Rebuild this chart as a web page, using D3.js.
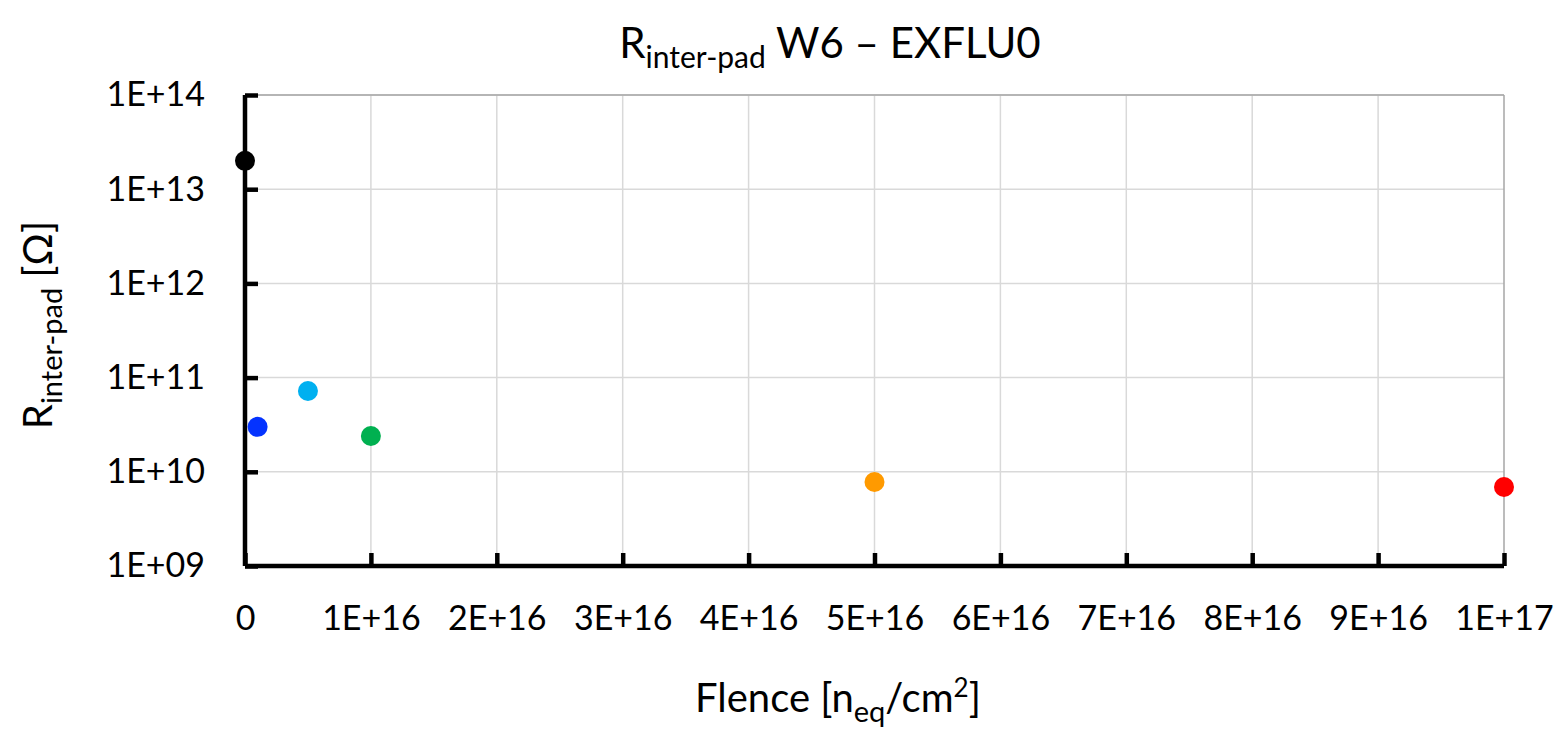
<!DOCTYPE html>
<html><head><meta charset="utf-8">
<script src="https://cdn.jsdelivr.net/npm/d3@7"></script>
<style>body{margin:0;background:#fff;}svg{display:block;font-family:Lato,"Open Sans",sans-serif;}</style>
</head><body>
<svg id="c" width="1563" height="735"></svg>
<script>
const fluence = [0, 1e15, 5e15, 1e16, 5e16, 1e17];
const resistance = [2e13, 3e10, 7.2e10, 2.4e10, 7.8e9, 6.9e9];
const pointColors = ["#000000", "#0433ff", "#00b0f0", "#00b050", "#ff9a00", "#ff0000"];
const xTicks = [0, 1e16, 2e16, 3e16, 4e16, 5e16, 6e16, 7e16, 8e16, 9e16, 1e17];
const xTickLabels = ["0", "1E+16", "2E+16", "3E+16", "4E+16", "5E+16", "6E+16", "7E+16", "8E+16", "9E+16", "1E+17"];
const yTicks = [1e9, 1e10, 1e11, 1e12, 1e13, 1e14];
const yTickLabels = ["1E+09", "1E+10", "1E+11", "1E+12", "1E+13", "1E+14"];

const svg = d3.select("#c");
const L = 245, R = 1504, T = 95, B = 566;
const x = d3.scaleLinear().domain([0, 1e17]).range([L, R]);
const y = d3.scaleLog().domain([1e9, 1e14]).range([B, T]);

// gridlines
svg.append("g").selectAll("line").data(yTicks.slice(1)).join("line")
  .attr("x1", L).attr("x2", R).attr("y1", d => y(d)).attr("y2", d => y(d))
  .attr("stroke", "#d9d9d9").attr("stroke-width", 1.5);
svg.append("g").selectAll("line").data(xTicks.slice(1)).join("line")
  .attr("x1", d => x(d)).attr("x2", d => x(d)).attr("y1", T).attr("y2", B)
  .attr("stroke", d => d === 1e17 ? "#a6a6a6" : "#d9d9d9").attr("stroke-width", 1.5);
svg.append("line").attr("x1", L).attr("x2", R).attr("y1", T).attr("y2", T)
  .attr("stroke", "#a6a6a6").attr("stroke-width", 1.5);

// axes
const yAxis = d3.axisLeft(y).tickValues(yTicks).tickFormat((d, i) => yTickLabels[i]).tickSize(-13).tickPadding(40);
const gy = svg.append("g").attr("transform", `translate(${L},0)`).call(yAxis);
const xAxis = d3.axisBottom(x).tickValues(xTicks).tickFormat((d, i) => xTickLabels[i]).tickSize(-13).tickPadding(40);
const gx = svg.append("g").attr("transform", `translate(0,${B})`).call(xAxis);
[gx, gy].forEach(g => {
  g.select(".domain").attr("stroke", "#000").attr("stroke-width", 4.5);
  g.selectAll(".tick line").attr("stroke", "#000").attr("stroke-width", 4.5);
  g.selectAll(".tick text").attr("fill", "#000").attr("font-size", 34).attr("font-family", "Lato, 'Open Sans', sans-serif");
});
gy.select(".domain").attr("d", `M0,${B}V${T}`);
gx.select(".domain").attr("d", `M${L},0H${R}`);

// points
svg.append("g").selectAll("circle").data(fluence).join("circle")
  .attr("cx", d => x(d)).attr("cy", (d, i) => y(resistance[i])).attr("r", 10)
  .attr("fill", (d, i) => pointColors[i]);

// title
const title = svg.append("text").attr("x", 830).attr("y", 58).attr("text-anchor", "middle")
  .attr("font-size", 42).attr("fill", "#000");
title.append("tspan").text("R");
title.append("tspan").attr("font-size", 30).attr("dy", 10).text("inter-pad");
title.append("tspan").attr("dy", -10).text(" W6 – EXFLU0");

// x axis title
const xt = svg.append("text").attr("x", 838).attr("y", 712).attr("text-anchor", "middle")
  .attr("font-size", 40).attr("fill", "#000");
xt.append("tspan").text("Flence [n");
xt.append("tspan").attr("font-size", 29).attr("dy", 10).text("eq");
xt.append("tspan").attr("dy", -10).text("/cm");
xt.append("tspan").attr("font-size", 26).attr("dy", -15).text("2");
xt.append("tspan").attr("dy", 15).text("]");

// y axis title
const yt = svg.append("text").attr("transform", "translate(52,325) rotate(-90)").attr("text-anchor", "middle")
  .attr("font-size", 40).attr("fill", "#000");
yt.append("tspan").text("R");
yt.append("tspan").attr("font-size", 29).attr("dy", 10).text("inter-pad");
yt.append("tspan").attr("dy", -10).text(" [Ω]");
</script>
</body></html>
